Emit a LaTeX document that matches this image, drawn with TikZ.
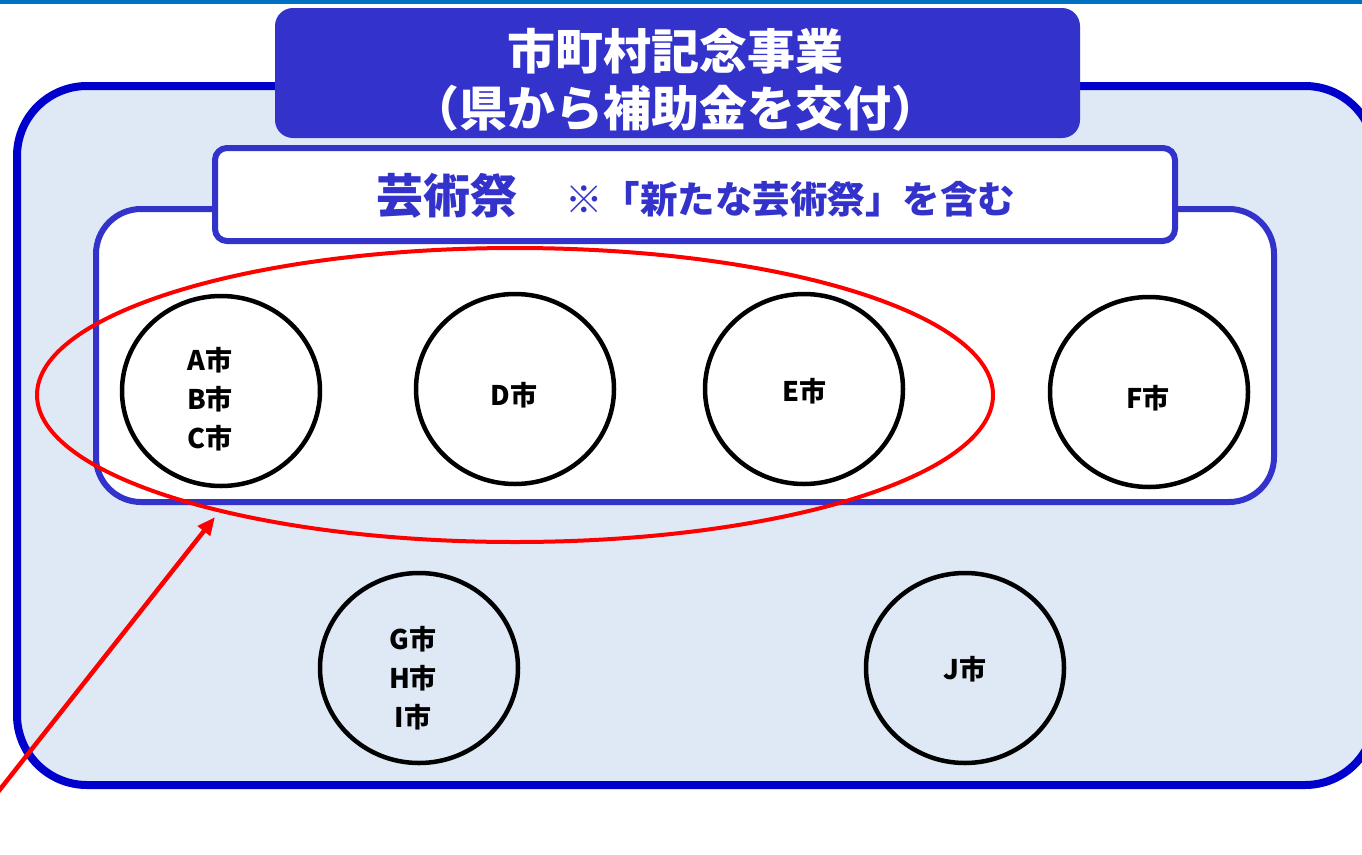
\documentclass[tikz,border=0pt]{standalone}
\usepackage{fontspec}
\newfontfamily\jp{Noto Sans CJK JP}
\usetikzlibrary{arrows.meta,shapes.geometric}
\definecolor{topline}{HTML}{0070C0}
\definecolor{outerline}{HTML}{0000CC}
\definecolor{outerfill}{HTML}{DEE9F5}
\definecolor{boxblue}{HTML}{3333CC}
\definecolor{redline}{HTML}{FF0000}
\begin{document}
\begin{tikzpicture}[x=1pt,y=-1pt,
  outerbox/.style={draw=outerline,fill=outerfill,line width=8pt,rounded corners=70pt},
  titlebox/.style={fill=boxblue,rounded corners=18pt,minimum width=805pt,minimum height=130pt,inner sep=0pt},
  titletext/.style={text=white,font=\jp\bfseries\fontsize{48}{57}\selectfont,align=center,inner sep=0pt},
  subbox/.style={draw=boxblue,fill=white,line width=6pt,rounded corners=12pt,minimum width=960pt,minimum height=93pt,inner sep=0pt},
  innerbox/.style={draw=boxblue,fill=white,line width=6pt,rounded corners=45pt},
  city/.style={draw=black,ellipse,line width=4.5pt,minimum width=198pt,minimum height=190pt,inner sep=0pt},
  citytext/.style={font=\jp\bfseries\fontsize{27}{39}\selectfont,align=center,inner sep=0pt},
  group/.style={draw=redline,ellipse,line width=4pt,minimum width=956pt,minimum height=294pt,inner sep=0pt},
  pointer/.style={draw=redline,line width=4.5pt,-{Triangle[length=18pt,width=15pt]}}
]
\useasboundingbox (0,0) rectangle (1362,854);
\fill[white] (0,0) rectangle (1362,854);
\fill[topline] (0,0) rectangle (1362,3.5);
% outer box
\draw[outerbox] (17,86) rectangle (1375,785);
% title
\node[titlebox] (title) at (677.5,73) {};
\node[titletext] (titlet) at (675,80) {市町村記念事業\\（県から補助金を交付）};
% inner box
\draw[innerbox] (96,209) rectangle (1274,502);
% subtitle box
\node[subbox] (sub) at (695,194.5) {};
\node[font=\jp\bfseries\fontsize{47}{50}\selectfont,text=boxblue,inner sep=0pt] (subt1) at (447,196) {芸術祭};
\node[font=\jp\bfseries\fontsize{37.5}{40}\selectfont,text=boxblue,inner sep=0pt] (subt2) at (790,199) {※「新たな芸術祭」を含む};
% cities
\node[city] (abc) at (221,391) {};
\node[city] (d) at (515,389) {};
\node[city] (e) at (804,389) {};
\node[city] (f) at (1149,392) {};
\node[city] (ghi) at (419,668) {};
\node[city] (j) at (965,668) {};
\node[citytext] (abct) at (210,399) {A市\\B市\\C市};
\node[citytext] (dt) at (514,395) {D市};
\node[citytext] (et) at (804,391) {E市};
\node[citytext] (ft) at (1148,398) {F市};
\node[citytext] (ghit) at (413,678) {G市\\H市\\I市};
\node[citytext] (jt) at (965,669) {J市};
% red grouping ellipse and arrow
\node[group] (grp) at (515,395) {};
\coordinate (src) at (-6,797);
\coordinate (tip) at (215,517);
\draw[pointer] (src) -- (tip);
\end{tikzpicture}
\end{document}
